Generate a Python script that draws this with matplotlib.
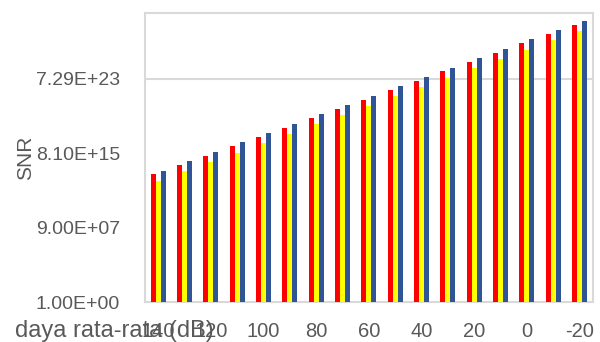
import matplotlib
matplotlib.use("Agg")
import matplotlib.pyplot as plt
import numpy as np

# daya rata-rata (dB), one group per 10 dB
daya = [140, 130, 120, 110, 100, 90, 80, 70, 60, 50, 40, 30, 20, 10, 0, -10, -20]
snr_red = [4.6e13, 4.6e14, 4.6e15, 4.6e16, 4.6e17, 4.6e18, 4.6e19, 4.6e20, 4.6e21,
           4.6e22, 4.6e23, 4.6e24, 4.6e25, 4.6e26, 4.6e27, 4.6e28, 4.6e29]
snr_yellow = [1.0e13, 1.0e14, 1.0e15, 1.0e16, 1.0e17, 1.0e18, 1.0e19, 1.0e20, 1.0e21,
              1.0e22, 1.0e23, 1.0e24, 1.0e25, 1.0e26, 1.0e27, 1.0e28, 1.0e29]
snr_blue = [1.2e14, 1.2e15, 1.2e16, 1.2e17, 1.2e18, 1.2e19, 1.2e20, 1.2e21, 1.2e22,
            1.2e23, 1.2e24, 1.2e25, 1.2e26, 1.2e27, 1.2e28, 1.2e29, 1.2e30]
y_ticks = [1.0, 9.0e7, 8.1e15, 7.29e23]
y_tick_labels = ["1.00E+00", "9.00E+07", "8.10E+15", "7.29E+23"]

plt.rcParams["font.family"] = ["Liberation Sans", "DejaVu Sans"]
txt = "#595959"
frame = "#d9d9d9"

fig = plt.figure(figsize=(6, 3.42), dpi=100)
ax = fig.add_axes([0.2417, 0.116, 0.7463, 0.847])

x = np.arange(len(daya))
w = 0.19
ax.bar(x - w, snr_red, w, color="#ff0000", zorder=3)
ax.bar(x, snr_yellow, w, color="#ffff00", zorder=3)
ax.bar(x + w, snr_blue, w, color="#2f5597", zorder=3)

ax.set_yscale("log")
ax.set_ylim(1, 10 ** 30.94)
ax.set_xlim(-0.5, len(daya) - 0.5)
ax.axhline(y_ticks[-1], color=frame, lw=1.5, zorder=1)

ax.set_yticks(y_ticks)
ax.set_yticklabels(y_tick_labels)
ax.yaxis.set_minor_locator(matplotlib.ticker.NullLocator())
ax.set_xticks(x[::2])
ax.set_xticklabels([str(d) for d in daya[::2]])

ax.tick_params(axis="both", length=0, colors=txt)
ax.tick_params(axis="y", pad=18, labelsize=14)
ax.tick_params(axis="x", pad=14, labelsize=14.5)

for s in ax.spines.values():
    s.set_color(frame)
    s.set_linewidth(1.5)

fig.text(0.025, 0.016, "daya rata-rata (dB)", color=txt, fontsize=17, va="baseline")
fig.text(0.042, 0.54, "SNR", color=txt, fontsize=15, rotation=90, ha="center", va="center")

fig.savefig("out.png", dpi=100)
